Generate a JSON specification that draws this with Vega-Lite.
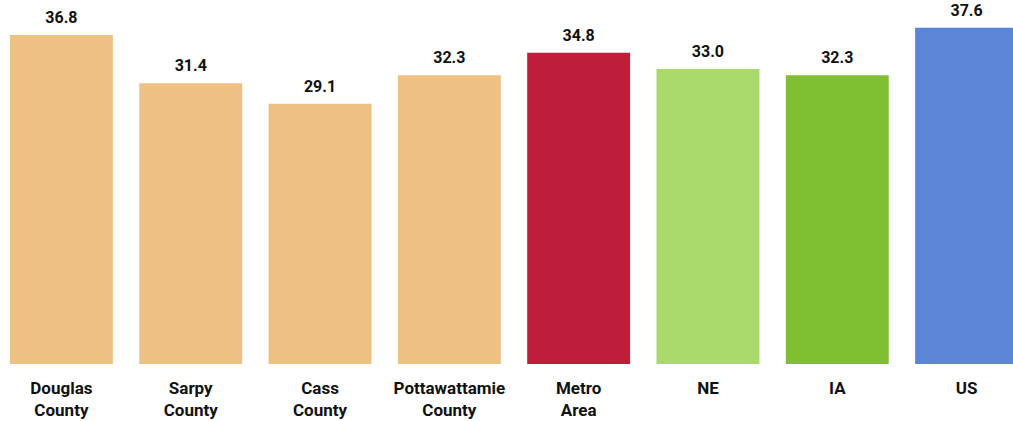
{
  "$schema": "https://vega.github.io/schema/vega-lite/v6.json",
  "autosize": {"type": "none"},
  "padding": {"left": 0, "top": 0, "right": 0, "bottom": 57},
  "width": 1028,
  "height": 364,
  "background": "white",
  "config": {"view": {"stroke": null}},
  "data": {
    "values": [
      {"area": "Douglas County", "value": 36.8, "color": "#EDC182"},
      {"area": "Sarpy County", "value": 31.4, "color": "#EDC182"},
      {"area": "Cass County", "value": 29.1, "color": "#EDC182"},
      {"area": "Pottawattamie County", "value": 32.3, "color": "#EDC182"},
      {"area": "Metro Area", "value": 34.8, "color": "#BE1E3A"},
      {"area": "NE", "value": 33.0, "color": "#A9D96B"},
      {"area": "IA", "value": 32.3, "color": "#80BE32"},
      {"area": "US", "value": 37.6, "color": "#5B85D6"}
    ]
  },
  "encoding": {
    "x": {
      "field": "area",
      "type": "nominal",
      "sort": null,
      "scale": {"paddingInner": 0.204, "paddingOuter": 0.077},
      "axis": {
        "title": null,
        "domain": false,
        "ticks": false,
        "labelAngle": 0,
        "labelFont": "Roboto",
        "labelFontWeight": "bold",
        "labelFontSize": 17,
        "labelColor": "#111111",
        "labelLineHeight": 22,
        "labelPadding": 16,
        "labelExpr": "split(datum.label, ' ')"
      }
    },
    "y": {
      "field": "value",
      "type": "quantitative",
      "scale": {"domain": [0, 40.71], "nice": false},
      "axis": null
    }
  },
  "layer": [
    {
      "mark": {"type": "bar"},
      "encoding": {"color": {"field": "color", "type": "nominal", "scale": null}}
    },
    {
      "mark": {
        "type": "text",
        "baseline": "middle",
        "dy": -17,
        "font": "Roboto",
        "fontWeight": "bold",
        "fontSize": 16,
        "color": "#111111"
      },
      "encoding": {"text": {"field": "value", "type": "quantitative", "format": ".1f"}}
    }
  ]
}
